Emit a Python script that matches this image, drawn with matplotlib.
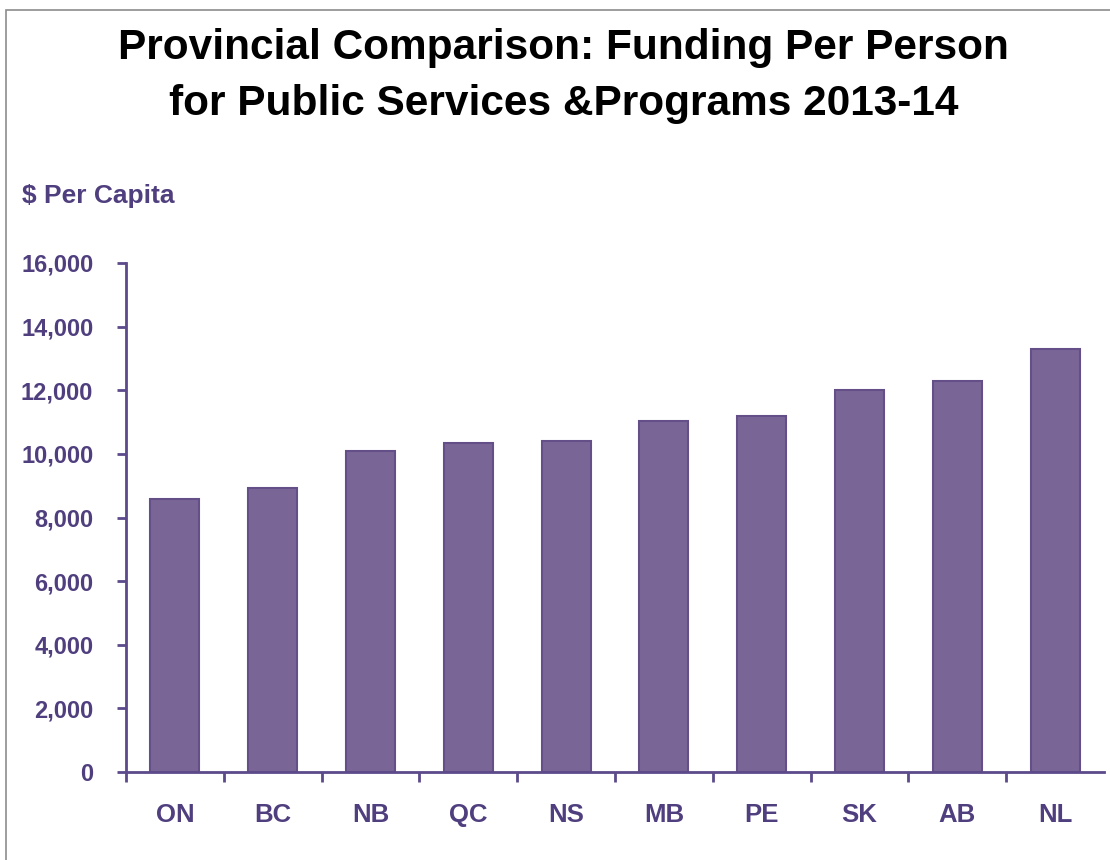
import numpy as np
import matplotlib.pyplot as plt
from matplotlib.patches import Rectangle
from matplotlib.ticker import FuncFormatter, FixedLocator

# per-capita program spending by province, 2013-14
provinces = ["ON", "BC", "NB", "QC", "NS", "MB", "PE", "SK", "AB", "NL"]
per_capita = [8570, 8920, 10080, 10350, 10420, 11020, 11180, 12010, 12280, 13290]
y_ticks = [0, 2000, 4000, 6000, 8000, 10000, 12000, 14000, 16000]

BAR_FILL = "#7a6696"
BAR_EDGE = "#654f88"
AXIS_COLOR = "#5c4a8a"
TEXT_COLOR = "#503f7e"

plt.rcParams["font.family"] = ["Liberation Sans", "DejaVu Sans"]

fig = plt.figure(figsize=(11.1, 8.6), dpi=100)
ax = fig.add_axes([0.1135, 0.1023, 0.8811, 0.5919])

x = np.arange(len(provinces))
ax.bar(x, per_capita, width=0.5, color=BAR_FILL, edgecolor=BAR_EDGE,
       linewidth=1.5, zorder=2)

ax.set_xlim(-0.5, len(provinces) - 0.5)
ax.set_ylim(0, 16000)

for side in ["top", "right"]:
    ax.spines[side].set_visible(False)
for side in ["left", "bottom"]:
    ax.spines[side].set_color(AXIS_COLOR)
    ax.spines[side].set_linewidth(2)

ax.yaxis.set_major_locator(FixedLocator(y_ticks))
ax.yaxis.set_major_formatter(FuncFormatter(lambda v, _: f"{int(v):,}"))
ax.tick_params(axis="y", direction="out", length=6.5, width=2,
               color=AXIS_COLOR, pad=17, labelsize=17,
               labelcolor=TEXT_COLOR)

# category boundaries get the tick marks, names sit between them
ax.set_xticks(x - 0.5)
ax.set_xticklabels([])
ax.tick_params(axis="x", which="major", direction="out", length=7.5,
               width=2, color=AXIS_COLOR)
ax.set_xticks(x, minor=True)
ax.set_xticklabels(provinces, minor=True)
ax.tick_params(axis="x", which="minor", length=0, pad=22, labelsize=18.5,
               labelcolor=TEXT_COLOR)

for lbl in ax.get_yticklabels() + ax.get_xticklabels(minor=True):
    lbl.set_fontweight("bold")

fig.text(0.0198, 1 - 196 / 860, "$ Per Capita", fontsize=19,
         fontweight="bold", color=TEXT_COLOR, ha="left", va="center")

fig.text(0.508, 1 - 48 / 860, "Provincial Comparison: Funding Per Person",
         fontsize=30.5, fontweight="bold", color="black",
         ha="center", va="center")
fig.text(0.508, 1 - 104 / 860, "for Public Services &Programs 2013-14",
         fontsize=30.5, fontweight="bold", color="black",
         ha="center", va="center")

# thin frame around the slide
fig.add_artist(Rectangle((6 / 1110, -0.05), 1.2, 1 - 10 / 860 + 0.05,
                         transform=fig.transFigure, fill=False,
                         edgecolor="#8c8c8c", linewidth=1.2))

fig.savefig("out.png", dpi=100)
